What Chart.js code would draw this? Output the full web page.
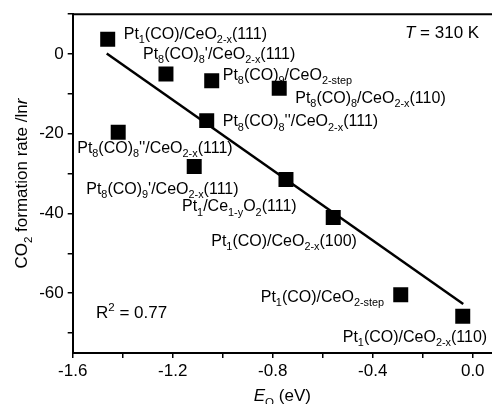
<!DOCTYPE html>
<html>
<head>
<meta charset="utf-8">
<script src="https://cdn.jsdelivr.net/npm/chart.js@4.4.0/dist/chart.umd.min.js"></script>
<style>
  html, body { margin: 0; padding: 0; background: #fff; }
  #contenedor { width: 492px; height: 404px; }
</style>
</head>
<body>
<div id="contenedor"><canvas id="grafica"></canvas></div>
<script>
// Datos
// _{..} = subíndice, ^{..} = superíndice, ~..~ = cursiva
const nombres = [
  'Pt_{1}(CO)/CeO_{2-x}(111)',
  "Pt_{8}(CO)_{8}'/CeO_{2-x}(111)",
  'Pt_{8}(CO)_{9}/CeO_{2-step}',
  'Pt_{8}(CO)_{8}/CeO_{2-x}(110)',
  "Pt_{8}(CO)_{8}''/CeO_{2-x}(111)",
  "Pt_{8}(CO)_{8}''/CeO_{2-x}(111)",
  "Pt_{8}(CO)_{9}'/CeO_{2-x}(111)",
  'Pt_{1}/Ce_{1-y}O_{2}(111)',
  'Pt_{1}(CO)/CeO_{2-x}(100)',
  'Pt_{1}(CO)/CeO_{2-step}',
  'Pt_{1}(CO)/CeO_{2-x}(110)'
];
const energiaO = [-1.46, -1.227, -1.044, -0.774, -1.064, -1.418, -1.114, -0.747, -0.558, -0.288, -0.04];
const tasaCO2 = [3.7, -5.0, -6.7, -8.6, -16.7, -19.6, -28.2, -31.5, -41.0, -60.4, -65.8];

// Recta de ajuste (extremos)
const ajusteX = [-1.464, -0.038];
const ajusteY = [0.15, -62.7];

const ticksX = [-1.6, -1.4, -1.2, -1.0, -0.8, -0.6, -0.4, -0.2, 0.0];
const etiquetasX = ['-1.6', '-1.2', '-0.8', '-0.4', '0.0'];
const ticksY = [-70, -60, -50, -40, -30, -20, -10, 0, 10];
const etiquetasY = ['-60', '-40', '-20', '0'];

// Desplazamiento (px) de cada etiqueta respecto a su punto: borde izquierdo, centro vertical
const desfases = [
  [16, -6], [-23, -21], [11, -7], [16, 9], [16, 0], [-41, 15],
  [-108, 22], [-104, 26], [-122, 23], [-140, 1], [-120, 20]
];

const FUENTE = '"Liberation Sans", Arial, sans-serif';

// Convierte el texto con marcas en segmentos
function segmentar(texto) {
  const segs = [];
  let cursiva = false, buf = '';
  const vaciar = () => { if (buf) { segs.push({ t: buf, modo: 'n', cursiva }); buf = ''; } };
  for (let i = 0; i < texto.length; i++) {
    const c = texto[i];
    if (c === '~') { vaciar(); cursiva = !cursiva; continue; }
    if ((c === '_' || c === '^') && texto[i + 1] === '{') {
      vaciar();
      const fin = texto.indexOf('}', i);
      segs.push({ t: texto.slice(i + 2, fin), modo: c === '_' ? 'sub' : 'sup', cursiva });
      i = fin;
      continue;
    }
    buf += c;
  }
  vaciar();
  return segs;
}

// Dibuja texto enriquecido; x = borde izquierdo (o centro), cy = centro de mayúsculas
function textoRico(ctx, texto, x, cy, tam, centrado) {
  const segs = segmentar(texto);
  const medir = s => {
    const t = s.modo === 'n' ? tam : tam * 0.68;
    ctx.font = (s.cursiva ? 'italic ' : '') + t + 'px ' + FUENTE;
    return ctx.measureText(s.t).width;
  };
  let total = 0;
  segs.forEach(s => total += medir(s));
  let px = centrado ? x - total / 2 : x;
  const base = cy + tam * 0.36;
  ctx.textBaseline = 'alphabetic';
  ctx.textAlign = 'left';
  ctx.fillStyle = '#000';
  segs.forEach(s => {
    const w = medir(s);
    let y = base;
    if (s.modo === 'sub') y = base + tam * 0.26;
    if (s.modo === 'sup') y = base - tam * 0.4;
    ctx.fillText(s.t, px, y);
    px += w;
  });
}

const anotaciones = {
  id: 'anotaciones',
  // el área del gráfico llega hasta el borde derecho del lienzo (la figura está recortada)
  afterLayout(chart) {
    const area = chart.chartArea;
    const x = chart.scales.x;
    area.right = chart.width;
    area.width = area.right - area.left;
    x.right = chart.width;
    x.width = x.right - x.left;
    x.configure();
  },
  afterDatasetsDraw(chart) {
    const { ctx, chartArea, scales } = chart;
    ctx.save();
    // borde superior del marco
    ctx.strokeStyle = '#000';
    ctx.lineWidth = 2;
    ctx.beginPath();
    ctx.moveTo(chartArea.left, chartArea.top);
    ctx.lineTo(chartArea.right, chartArea.top);
    ctx.stroke();

    // etiquetas de los puntos
    nombres.forEach((n, i) => {
      const px = scales.x.getPixelForValue(energiaO[i]);
      const py = scales.y.getPixelForValue(tasaCO2[i]);
      textoRico(ctx, n, px + desfases[i][0], py + desfases[i][1], 16, false);
    });

    textoRico(ctx, '~T~ = 310 K', 405, 32, 17, false);
    textoRico(ctx, 'R^{2} = 0.77', 96, 312, 17, false);

    // títulos de los ejes
    textoRico(ctx, '~E~_{O} (eV)', (chartArea.left + chartArea.right) / 2, 395, 17, true);
    ctx.translate(21, (chartArea.top + chartArea.bottom) / 2);
    ctx.rotate(-Math.PI / 2);
    textoRico(ctx, 'CO_{2} formation rate /ln~r~', 0, 0, 17, true);
    ctx.restore();
  }
};

const ctx = document.getElementById('grafica').getContext('2d');

new Chart(ctx, {
  type: 'scatter',
  data: {
    datasets: [
      {
        data: energiaO.map((x, i) => ({ x: x, y: tasaCO2[i] })),
        pointStyle: 'rect',
        pointRadius: 10.6,
        pointHoverRadius: 10.6,
        backgroundColor: '#000',
        borderColor: '#000',
        borderWidth: 0
      },
      {
        type: 'line',
        data: ajusteX.map((x, i) => ({ x: x, y: ajusteY[i] })),
        borderColor: '#000',
        borderWidth: 2.5,
        pointRadius: 0,
        fill: false
      }
    ]
  },
  options: {
    responsive: true,
    maintainAspectRatio: false,
    animation: false,
    devicePixelRatio: 1,
    layout: { padding: { left: 0, top: 13, right: 0, bottom: 0 } },
    plugins: { legend: { display: false }, tooltip: { enabled: false } },
    scales: {
      x: {
        type: 'linear',
        min: -1.6,
        max: 0.077,
        afterBuildTicks: s => { s.ticks = ticksX.map(v => ({ value: v })); },
        afterFit: s => { s.height = 51; },
        border: { color: '#000', width: 2 },
        grid: { drawOnChartArea: false, color: '#000', lineWidth: 1.5, tickLength: 5 },
        ticks: {
          autoSkip: false,
          maxRotation: 0,
          padding: 3,
          color: '#000',
          font: { family: FUENTE, size: 17 },
          callback: v => { const s = Number(v).toFixed(1); return etiquetasX.includes(s) ? s : ''; }
        }
      },
      y: {
        type: 'linear',
        min: -75,
        max: 10,
        afterBuildTicks: s => { s.ticks = ticksY.map(v => ({ value: v })); },
        afterFit: s => { s.width = 72.7; },
        border: { color: '#000', width: 2 },
        grid: { drawOnChartArea: false, color: '#000', lineWidth: 1.5, tickLength: 5 },
        ticks: {
          autoSkip: false,
          padding: 4,
          color: '#000',
          font: { family: FUENTE, size: 17 },
          callback: v => { const s = String(Math.round(v)); return etiquetasY.includes(s) ? s : ''; }
        }
      }
    }
  },
  plugins: [anotaciones]
});
</script>
</body>
</html>
